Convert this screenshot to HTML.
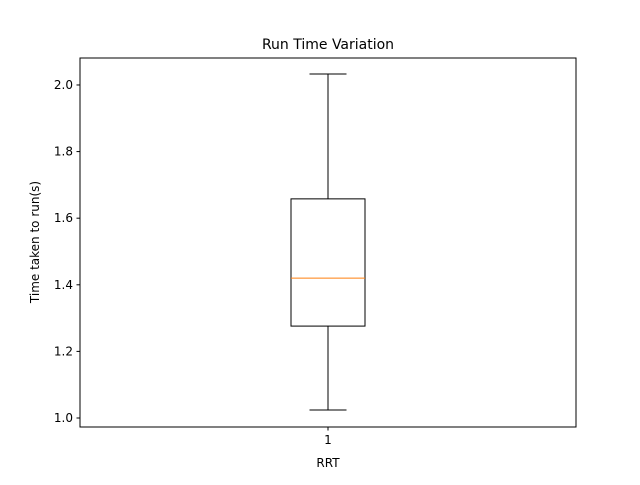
<!DOCTYPE html>
<html><head><meta charset="utf-8"><style>
body{margin:0;background:#fff;}
svg text{font-family:"DejaVu Sans","Liberation Sans",sans-serif;fill:#000;}
</style></head><body>
<svg id="chart" width="640" height="480">
<rect width="640" height="480" fill="#fff"/>
<text x="328" y="49" font-size="14" text-anchor="middle">Run Time Variation</text>
<g id="plot"></g>
<rect x="80" y="58" width="496" height="369" fill="none" stroke="#000" stroke-width="1"/>
<text x="328" y="467" font-size="12" text-anchor="middle">RRT</text>
<text transform="translate(39,242) rotate(-90)" font-size="12" text-anchor="middle">Time taken to run(s)</text>
</svg>
<script>
const categories = ["1"];
const whiskerLow = [1.024];
const q1 = [1.276];
const median = [1.420];
const q3 = [1.658];
const whiskerHigh = [2.033];
const yTicks = [1.0, 1.2, 1.4, 1.6, 1.8, 2.0];
const yTickLabels = ["1.0", "1.2", "1.4", "1.6", "1.8", "2.0"];

const NS = "http://www.w3.org/2000/svg";
const plotG = document.getElementById('plot');
const yMin = 0.973, yMax = 2.081, PT = 58, PB = 427, PL = 80, PR = 576;
function yS(v){ return PB - (v - yMin) / (yMax - yMin) * (PB - PT); }
function xS(i){ return PL + (i + 0.5) / categories.length * (PR - PL); }
function mk(tag, attrs){ const e = document.createElementNS(NS, tag); for (const k in attrs) e.setAttribute(k, attrs[k]); plotG.appendChild(e); return e; }

yTicks.forEach((t, i) => {
  const ln = mk('line', {x1: PL - 3.5, x2: PL, y1: yS(t), y2: yS(t), stroke: '#000'});
  
  
  const tx = mk('text', {x: PL - 7, y: yS(t) + 4, 'font-size': 12, 'text-anchor': 'end'});
  tx.textContent = yTickLabels[i];
  
  
});

categories.forEach((c, i) => {
  const cx = xS(i), hw = 37, cw = 18.5;
  const tk = mk('line', {x1: cx, x2: cx, y1: PB, y2: PB + 3.5, stroke: '#000'});
  
  
  const tl = mk('text', {x: cx, y: PB + 17, 'font-size': 12, 'text-anchor': 'middle'});
  tl.textContent = c;
  
  
  const w1 = mk('line', {x1: cx, x2: cx, y1: yS(whiskerLow[i]), y2: yS(q1[i]), stroke: '#000'});
  
  
  const w2 = mk('line', {x1: cx, x2: cx, y1: yS(q3[i]), y2: yS(whiskerHigh[i]), stroke: '#000'});
  
  
  const c1 = mk('line', {x1: cx - cw, x2: cx + cw, y1: yS(whiskerLow[i]), y2: yS(whiskerLow[i]), stroke: '#000'});
  
  
  const c2 = mk('line', {x1: cx - cw, x2: cx + cw, y1: yS(whiskerHigh[i]), y2: yS(whiskerHigh[i]), stroke: '#000'});
  
  
  const bx = mk('rect', {x: cx - hw, y: yS(q3[i]), width: 2 * hw, height: yS(q1[i]) - yS(q3[i]), fill: 'none', stroke: '#000'});
  
  
  const md = mk('line', {x1: cx - hw, x2: cx + hw, y1: yS(median[i]), y2: yS(median[i]), stroke: '#ff7f0e'});
  
  
});
</script>
</body></html>
